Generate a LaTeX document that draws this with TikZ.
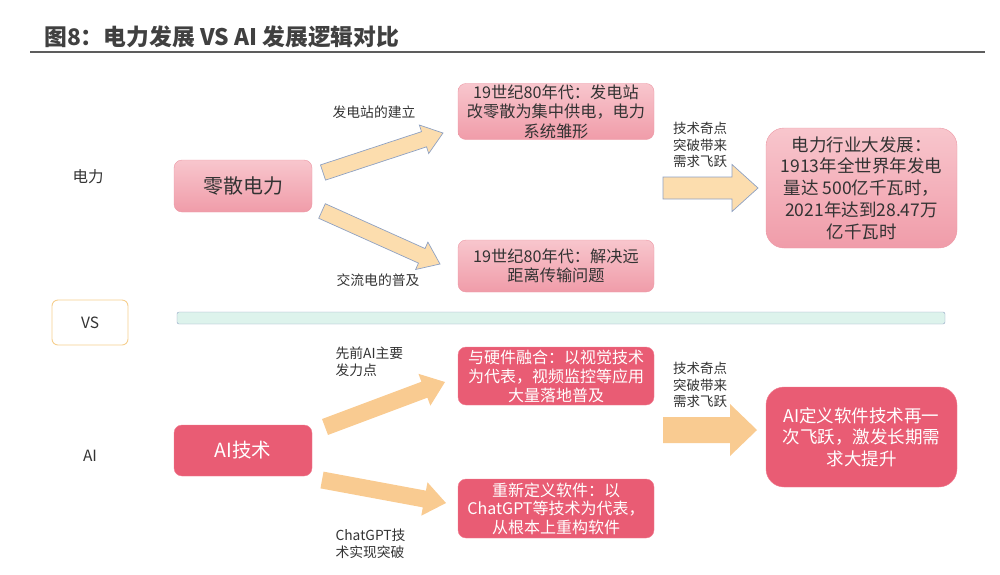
\documentclass[tikz,border=0pt]{standalone}
\usepackage{fontspec}
\setmainfont{Noto Sans CJK SC}
\usetikzlibrary{calc}
\definecolor{inkgray}{HTML}{333333}
\definecolor{titlegray}{HTML}{404040}
\definecolor{lightpinktop}{HTML}{F8C6CD}
\definecolor{lightpinkbot}{HTML}{F09CA9}
\definecolor{lightpinkline}{HTML}{EC98A5}
\definecolor{deeppink}{HTML}{E95C74}
\definecolor{deeppinkline}{HTML}{F07F92}
\definecolor{peach}{HTML}{FCDDAE}
\definecolor{peachdeep}{HTML}{F9CB91}
\definecolor{arrowline}{HTML}{8EA1C3}
\definecolor{barfill}{HTML}{DDF3EC}
\definecolor{vsline}{HTML}{F6CF8E}

\begin{document}
\begin{tikzpicture}[x=1pt,y=-1pt,
    lightbox/.style={draw=lightpinkline,top color=lightpinktop,bottom color=lightpinkbot,
        rounded corners=8,align=center,text=inkgray},
    deepbox/.style={draw=deeppinkline,fill=deeppink,rounded corners=8,align=center,text=white},
    rowlabel/.style={text=inkgray,font=\fontsize{15.5}{18}\selectfont},
    arrowlabel/.style={text=inkgray,align=left,font=\fontsize{13.8}{17}\selectfont},
    uparrow/.style={fill=peach,draw=arrowline,line width=0.7},
    lowarrow/.style={fill=peachdeep}]
    \useasboundingbox (0,0) rectangle (1000,574);

    % title
    \node[anchor=west,inner sep=0,text=titlegray,font=\fontsize{22.8}{26}\selectfont\bfseries] (title) at (44,37) {图8：电力发展 VS AI 发展逻辑对比};
    \draw[titlegray!85,line width=2.8] (30,52) -- (985,52);

    % electricity row
    \node[rowlabel] (elec) at (88,177) {电力};
    \node[lightbox,minimum width=138,minimum height=52,font=\fontsize{20}{22}\selectfont] (ls) at (243,186) {零散电力};
    \node[lightbox,minimum width=196,minimum height=55,inner sep=1,font=\fontsize{16.2}{19.5}\selectfont] (p1) at (556,111.5) {19世纪80年代：发电站\\改零散为集中供电，电力\\系统雏形};
    \node[lightbox,minimum width=196,minimum height=52,font=\fontsize{16.2}{19.5}\selectfont] (p2) at (556,266) {19世纪80年代：解决远\\距离传输问题};
    \node[lightbox,rounded corners=18,minimum width=191,minimum height=120,font=\fontsize{17.5}{21.7}\selectfont] (pe) at (861.5,188) {电力行业大发展：\\1913年全世界年发电\\量达 500亿千瓦时，\\2021年达到28.47万\\亿千瓦时};
    \node[arrowlabel] (l1) at (374,112) {发电站的建立};
    \node[arrowlabel] (l2) at (378,280) {交流电的普及};
    \node[arrowlabel,font=\fontsize{13.5}{16.5}\selectfont] (l3) at (700,145) {技术奇点\\突破带来\\需求飞跃};

    % divider
    \node[draw=vsline,line width=0.9,fill=white,rounded corners=6,minimum width=76,minimum height=45,text=inkgray,font=\fontsize{15.5}{18}\selectfont] (vs) at (90,322.5) {VS};
    \node[draw=arrowline,fill=barfill,rounded corners=2,minimum width=768,minimum height=12,inner sep=0] (bar) at (561,318) {};

    % AI row
    \node[rowlabel] (ailab) at (90,456) {AI};
    \node[deepbox,minimum width=138,minimum height=51,font=\fontsize{19.5}{22}\selectfont] (ai) at (243,450.5) {AI技术};
    \node[deepbox,minimum width=196,minimum height=58,inner sep=1,font=\fontsize{16}{19}\selectfont] (q1) at (556,376) {与硬件融合：以视觉技术\\为代表，视频监控等应用\\大量落地普及};
    \node[deepbox,minimum width=196,minimum height=59,inner sep=1,font=\fontsize{16}{18.5}\selectfont] (q2) at (556,508.5) {重新定义软件：以\\ChatGPT等技术为代表，\\从根本上重构软件};
    \node[deepbox,rounded corners=18,minimum width=191,minimum height=100,font=\fontsize{17.5}{21.7}\selectfont] (qe) at (861.5,437) {AI定义软件技术再一\\次飞跃，激发长期需\\求大提升};
    \node[arrowlabel,anchor=west] (l4) at (332,362) {先前AI主要\\发力点};
    \node[arrowlabel,anchor=west] (l5) at (332,544) {ChatGPT技\\术实现突破};
    \node[arrowlabel,font=\fontsize{13.5}{16.5}\selectfont] (l6) at (700,385) {技术奇点\\突破带来\\需求飞跃};

    % arrow ends
    \coordinate (a1s) at (323,172.5);
    \coordinate (a1e) at (443,133);
    \coordinate (a2s) at (322,211);
    \coordinate (a2e) at (440,264);
    \coordinate (a3s) at (325,427);
    \coordinate (a3e) at (445,382);
    \coordinate (a4s) at (322,480);
    \coordinate (a4e) at (446,503);
    \coordinate (b1s) at (663,188);
    \coordinate (b1e) at (758,188);
    \coordinate (b2s) at (663,430);
    \coordinate (b2e) at (757,430);

    % block arrows
    \foreach \src/\dst/\sw/\hw/\hl/\sty in {a1s/a1e/8/15/20/uparrow,a2s/a2e/8/15/20/uparrow,
        a3s/a3e/8.5/17/22/lowarrow,a4s/a4e/8.5/17/22/lowarrow,
        b1s/b1e/11/23.5/26/uparrow,b2s/b2e/13/26/27/lowarrow} {
        \coordinate (hb) at ($(\dst)!\hl pt!(\src)$);
        \path[\sty] ($(\src)!\sw pt!90:(\dst)$) -- ($(hb)!\sw pt!-90:(\src)$) -- ($(hb)!\hw pt!-90:(\src)$)
            -- (\dst) -- ($(hb)!\hw pt!90:(\src)$) -- ($(hb)!\sw pt!90:(\src)$) -- ($(\src)!\sw pt!-90:(\dst)$) -- cycle;
    }
\end{tikzpicture}
\end{document}
